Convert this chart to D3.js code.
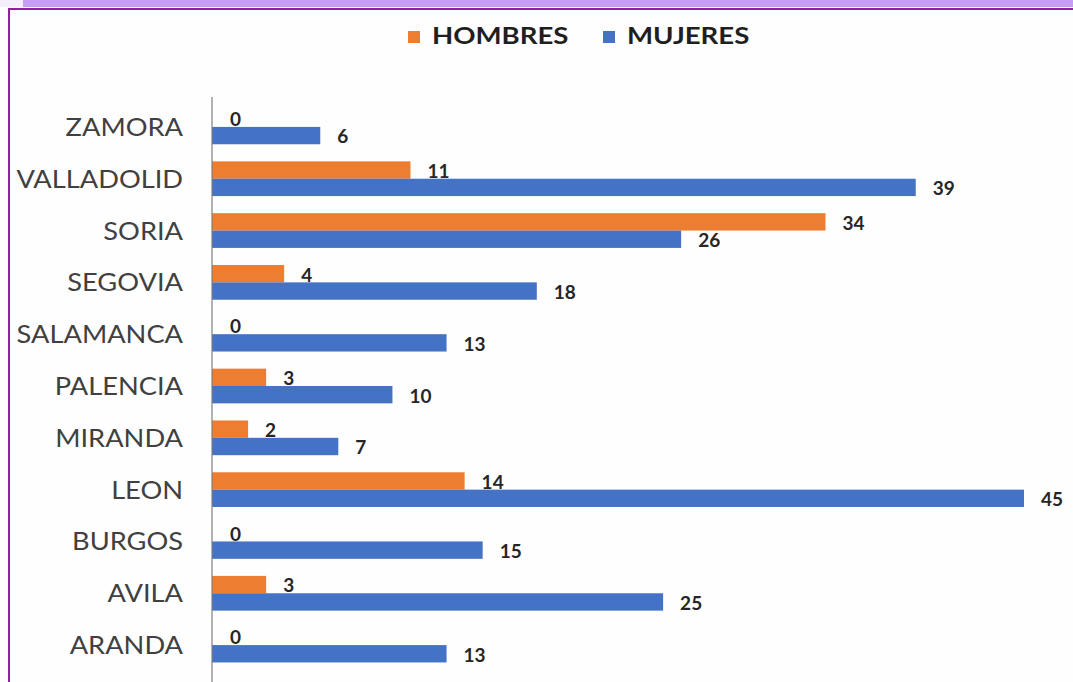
<!DOCTYPE html>
<html>
<head>
<meta charset="utf-8">
<title>Hombres y mujeres por provincia</title>
<script src="https://cdn.jsdelivr.net/npm/d3@7/dist/d3.min.js"></script>
<style>
  body { margin: 0; background: #fefefe; }
  svg { display: block; }
</style>
</head>
<body>
<svg id="chart"></svg>
<script>
// data, top to bottom as in the chart
const provincias = ["ZAMORA", "VALLADOLID", "SORIA", "SEGOVIA", "SALAMANCA", "PALENCIA", "MIRANDA", "LEON", "BURGOS", "AVILA", "ARANDA"];
const hombres = [0, 11, 34, 4, 0, 3, 2, 14, 0, 3, 0];
const mujeres = [6, 39, 26, 18, 13, 10, 7, 45, 15, 25, 13];
const series = ["HOMBRES", "MUJERES"];
const colores = ["#ED7D31", "#4472C4"];

const W = 1073, H = 682;
const font = "Lato, 'Open Sans', sans-serif";
const svg = d3.select("#chart").attr("width", W).attr("height", H);

// frame like the slide it was cut from
svg.append("rect").attr("x", 0).attr("y", 0).attr("width", W).attr("height", 7).attr("fill", "#c59ef4");
svg.append("rect").attr("x", 0).attr("y", 0).attr("width", 23).attr("height", 7).attr("fill", "#f3eefa");
svg.append("rect").attr("x", 8).attr("y", 8).attr("width", W - 8).attr("height", 2).attr("fill", "#9a1b9c");
svg.append("rect").attr("x", 8).attr("y", 8).attr("width", 2).attr("height", H).attr("fill", "#9a1b9c");

const x0 = 212;
const x = d3.scaleLinear().domain([0, 45]).range([x0, 1024]);
const y = d3.scaleBand().domain(provincias).range([101, 671]).paddingInner(0.33).paddingOuter(0.165);
const ySub = d3.scaleBand().domain(series).range([0, y.bandwidth()]);

const rows = provincias.map((p, i) => ({ p, vals: [hombres[i], mujeres[i]] }));

const g = svg.append("g");
const grp = g.selectAll(".row").data(rows).join("g")
  .attr("class", "row")
  .attr("transform", d => `translate(0,${y(d.p)})`);

grp.selectAll("rect").data(d => d.vals.map((v, k) => ({ v, k }))).join("rect")
  .attr("x", x0)
  .attr("y", d => ySub(series[d.k]))
  .attr("width", d => x(d.v) - x0)
  .attr("height", ySub.bandwidth())
  .attr("fill", d => colores[d.k]);

grp.selectAll("text").data(d => d.vals.map((v, k) => ({ v, k }))).join("text")
  .attr("x", d => x(d.v) + (d.v === 0 ? 18 : 17))
  .attr("y", d => ySub(series[d.k]) + ySub.bandwidth() / 2 + 3)
  .attr("dominant-baseline", "middle")
  .attr("font-family", font)
  .attr("font-weight", "bold")
  .attr("font-size", 19)
  .attr("fill", "#262626")
  .text(d => d.v);

// axis with category labels (the original font is a bit wider, so stretch it)
const yAxis = d3.axisLeft(y).tickSize(0);
const ax = svg.append("g").attr("transform", `translate(${x0},0)`).call(yAxis);
ax.select(".domain").remove();
ax.selectAll("text")
  .attr("x", 0)
  .attr("transform", "translate(-29,1) scale(1.09,1)")
  .attr("font-family", font)
  .attr("font-size", 25)
  .attr("fill", "#404040");
svg.append("line").attr("x1", x0).attr("x2", x0).attr("y1", 97).attr("y2", H)
  .attr("stroke", "#7f7f7f").attr("stroke-width", 1.2);

// legend
const leg = svg.append("g").attr("transform", "translate(408,37)");
const legX = [0, 195];
series.forEach((s, i) => {
  leg.append("rect").attr("x", legX[i]).attr("y", -6).attr("width", 12).attr("height", 12).attr("fill", colores[i]);
  leg.append("text")
    .attr("transform", `translate(${legX[i] + 24},1) scale(1.2,1)`)
    .attr("dominant-baseline", "middle")
    .attr("font-family", font)
    .attr("font-weight", "bold")
    .attr("font-size", 23)
    .attr("fill", "#1f1f1f")
    .text(s);
});
</script>
</body>
</html>
